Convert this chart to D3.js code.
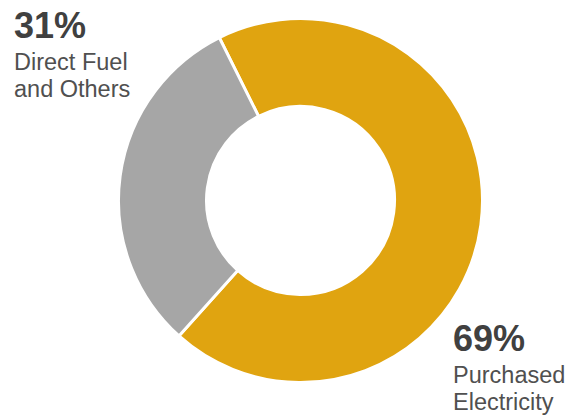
<!DOCTYPE html>
<html>
<head>
<meta charset="utf-8">
<script src="https://cdn.jsdelivr.net/npm/d3@7"></script>
<style>
  body { margin: 0; background: #fff; }
  svg { display: block; font-family: "Liberation Sans", Arial, sans-serif; }
</style>
</head>
<body>
<div id="chart"></div>
<script>
var categories = ["Purchased Electricity", "Direct Fuel and Others"];
var values = [69, 31];
var labelLines = [["Purchased", "Electricity"], ["Direct Fuel", "and Others"]];

var width = 573, height = 415;
var cx = 300.5, cy = 200.5,
  outerR = 182, innerR = 94;

var svg = d3.select("#chart").append("svg")
  .attr("width", width).attr("height", height);

var color = d3.scaleOrdinal()
  .domain(categories)
  .range(["#e0a410", "#a6a6a6"]);

// first slice starts a bit left of 12 o'clock
var start = -26.5 * Math.PI / 180;
var pie = d3.pie().sort(null).startAngle(start).endAngle(start + 2 * Math.PI);
var arc = d3.arc().innerRadius(innerR).outerRadius(outerR);

var slices = pie(values);

var g = svg.append("g").attr("transform", "translate(" + cx + "," + cy + ")");
g.selectAll("path").data(slices).enter().append("path")
  .attr("d", arc)
  .attr("fill", function (d, i) { return color(categories[i]); })
  .attr("stroke", "#fff")
  .attr("stroke-width", 3);

// label anchors (baseline of the percentage)
var labelPos = [{x: 453, y: 351}, {x: 14, y: 38}];

var labels = svg.selectAll(".lbl").data(categories).enter().append("g")
  .attr("class", "lbl")
  .attr("transform", function (d, i) { return "translate(" + labelPos[i].x + "," + labelPos[i].y + ")"; });

labels.append("text")
  .attr("font-size", 36)
  .attr("font-weight", "bold")
  .attr("fill", "#404040")
  .text(function (d, i) { return values[i] + "%"; });

labels.each(function (d, i) {
  var t = d3.select(this).append("text")
    .attr("font-size", 23.5)
    .attr("fill", "#505050");
  labelLines[i].forEach(function (line, k) {
    t.append("tspan").attr("x", 0).attr("y", 32 + k * 27).text(line);
  });
});
</script>
</body>
</html>
